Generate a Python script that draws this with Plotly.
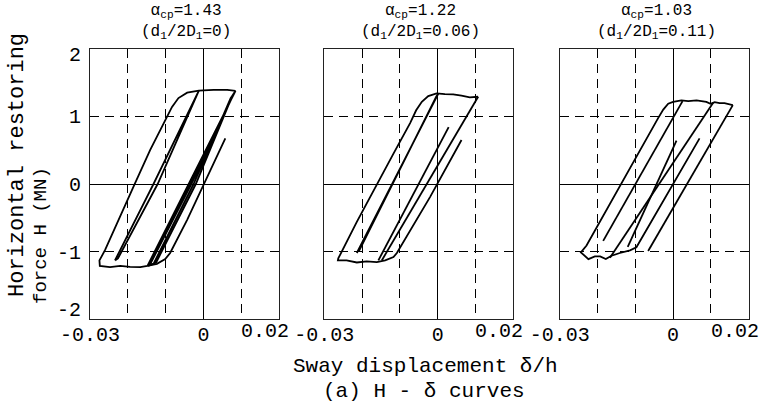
import plotly.graph_objects as go

# ---------------- data ----------------
ALPHA_CP = ["1.43", "1.22", "1.03"]
D_RATIO = ["0", "0.06", "0.11"]

X_TICKS = [-0.03, 0]
X_TICK_TEXT = ["-0.03", "0"]
X_END_TICK = 0.02
X_END_TEXT = "0.02"
X_MINOR = [-0.02, -0.01, 0.01]
Y_TICKS = [-1, 0, 1]
Y_TICK_TEXT = ["-1", "0", "1"]
Y_END_TICKS = [-2, 2]
Y_END_TEXT = ["-2", "2"]
Y_GRID = [-2, -1, 1, 2]

# panel 1 (alpha_cp = 1.43)
P1_OUTER_X = [0.0085, 0.0063, 0.0027, -0.0012, -0.0043, -0.0066, -0.0083, -0.0101, -0.0141,
              -0.0181, -0.0220, -0.0260, -0.0275, -0.0274, -0.0247, -0.0220, -0.0194, -0.0167,
              -0.0148, -0.0123, -0.0101, -0.0088, -0.0043, 0.0001, 0.0058]
P1_OUTER_Y = [1.378, 1.39, 1.39, 1.38, 1.35, 1.27, 1.14, 0.945, 0.50,
              0.01, -0.48, -0.975, -1.13, -1.21, -1.23, -1.21, -1.225, -1.23,
              -1.21, -1.18, -1.11, -1.02, -0.53, -0.015, 0.675]
P1_NARROW_X = [-0.0234, -0.0132, -0.0012, -0.0121, -0.0226, -0.0234]
P1_NARROW_Y = [-1.13, 0.0, 1.38, 0.0, -1.10, -1.13]
P1_BAND_X = [-0.0148, -0.0040, 0.0085, 0.0077, -0.0020, -0.0125, -0.0142, -0.0032, 0.0082,
             0.0072, -0.0026, -0.0132, -0.0146, -0.0036, 0.0084]
P1_BAND_Y = [-1.21, 0.0, 1.378, 1.31, 0.0, -1.16, -1.20, 0.0, 1.35,
             1.27, 0.0, -1.18, -1.21, 0.0, 1.37]

# panel 2 (alpha_cp = 1.22)
P2_OUTER_X = [0.0107, 0.0085, 0.0063, 0.0041, 0.0019, -0.0003, -0.0025, -0.0042, -0.0057,
              -0.0073, -0.0117, -0.0160, -0.0214, -0.0263, -0.0264, -0.0241, -0.0214, -0.0188,
              -0.0161, -0.0139, -0.0117, -0.0108, -0.0020, 0.0063]
P2_OUTER_Y = [1.29, 1.28, 1.305, 1.325, 1.33, 1.34, 1.30, 1.215, 1.09,
              0.90, 0.45, 0.0, -0.56, -1.10, -1.13, -1.13, -1.16, -1.145,
              -1.155, -1.13, -1.08, -1.02, -0.19, 0.65]
P2_B_X = [-0.0214, 0.0002, -0.0004, -0.0209]
P2_B_Y = [-1.02, 1.34, 1.29, -1.00]
P2_C_X = [-0.0157, 0.0026, 0.0029]
P2_C_Y = [-1.13, 0.80, 0.84]
P2_D_X = [-0.0148, 0.0107]
P2_D_Y = [-1.13, 1.29]

# panel 3 (alpha_cp = 1.03)
P3_OUTER_X = [0.0158, 0.0150, 0.0136, 0.0123, 0.0110, 0.0099, 0.0088, 0.0062, 0.0040, 0.0022,
              0.0, -0.0013, -0.0026, -0.0040, -0.0088, -0.0136, -0.0185, -0.0229, -0.0244,
              -0.0233, -0.0224, -0.0207, -0.0193, -0.0178, -0.0163, -0.0141, -0.0114, -0.0097,
              0.0070]
P3_OUTER_Y = [1.166, 1.177, 1.196, 1.196, 1.21, 1.186, 1.214, 1.235, 1.226, 1.235,
              1.214, 1.186, 1.10, 0.97, 0.49, 0.01, -0.49, -0.91, -1.01,
              -1.06, -1.11, -1.07, -1.07, -1.11, -1.06, -1.02, -0.98, -0.935,
              0.675]
P3_L1_X = [-0.0185, 0.0025]
P3_L1_Y = [-0.84, 1.225]
P3_L2_X = [-0.0167, 0.0106]
P3_L2_Y = [-1.09, 1.20]
P3_L3_X = [-0.0120, 0.0009]
P3_L3_Y = [-0.93, 0.64]
P3_L5_X = [-0.0066, 0.0158]
P3_L5_Y = [-0.99, 1.166]

PANEL_CURVES = [
    [(P1_OUTER_X, P1_OUTER_Y), (P1_NARROW_X, P1_NARROW_Y), (P1_BAND_X, P1_BAND_Y)],
    [(P2_OUTER_X, P2_OUTER_Y), (P2_B_X, P2_B_Y), (P2_C_X, P2_C_Y), (P2_D_X, P2_D_Y)],
    [(P3_OUTER_X, P3_OUTER_Y), (P3_L1_X, P3_L1_Y), (P3_L2_X, P3_L2_Y),
     (P3_L3_X, P3_L3_Y), (P3_L5_X, P3_L5_Y)],
]

# ---------------- layout ----------------
W, H = 776, 406
PX_LEFT = [90, 324.3, 559.7]
PX_RIGHT = [279, 513.3, 748.7]
PY_TOP, PY_BOT = 48.7, 319.3
FONT = "Liberation Mono, DejaVu Sans Mono, monospace"
INK = "black"
DASH = "9px,6px"
TICK_FONT = dict(family=FONT, size=20, color=INK)

fig = go.Figure()

for k, curves in enumerate(PANEL_CURVES):
    sfx = "" if k == 0 else str(k + 1)
    for cx, cy in curves:
        fig.add_trace(go.Scatter(x=cx, y=cy, mode="lines",
                                 line=dict(color=INK, width=1.8),
                                 xaxis="x" + sfx, yaxis="y" + sfx,
                                 showlegend=False, hoverinfo="skip"))

layout = dict(width=W, height=H, margin=dict(l=0, r=0, t=0, b=0, autoexpand=False),
              paper_bgcolor="white", plot_bgcolor="white", showlegend=False,
              font=dict(family=FONT, color=INK))

annotations = []
for k in range(3):
    sfx = "" if k == 0 else str(k + 1)
    layout["xaxis" + sfx] = dict(
        domain=[PX_LEFT[k] / W, PX_RIGHT[k] / W], range=[-0.03, 0.02],
        tickvals=X_TICKS, ticktext=X_TICK_TEXT, ticks="", automargin=False,
        tickfont=TICK_FONT, ticklabelstandoff=-3,
        showgrid=True, gridcolor=INK, gridwidth=1, griddash=DASH,
        minor=dict(tickvals=X_MINOR, showgrid=True, gridcolor=INK, gridwidth=1, griddash=DASH),
        zeroline=True, zerolinecolor=INK, zerolinewidth=1,
        showline=True, mirror=True, linecolor="#222", linewidth=1.2,
        anchor="y" + sfx, fixedrange=True)
    yax = dict(
        domain=[1 - PY_BOT / H, 1 - PY_TOP / H], range=[-2, 2],
        tickvals=Y_TICKS, ticks="", automargin=False,
        showticklabels=(k == 0), ticklabelstandoff=4,
        tickfont=TICK_FONT,
        showgrid=True, gridcolor=INK, gridwidth=1, griddash=DASH,
        minor=dict(tickvals=Y_GRID, showgrid=True, gridcolor=INK, gridwidth=1, griddash=DASH),
        zeroline=True, zerolinecolor=INK, zerolinewidth=1,
        showline=True, mirror=True, linecolor="#222", linewidth=1.2,
        anchor="x" + sfx, fixedrange=True)
    if k == 0:
        yax["ticktext"] = Y_TICK_TEXT
    layout["yaxis" + sfx] = yax
    cx_paper = (PX_LEFT[k] + PX_RIGHT[k]) / 2 / W + 2 / W
    annotations.append(dict(
        text="α<sub>cp</sub>=" + ALPHA_CP[k] + "<br>(d<sub>1</sub>/2D<sub>1</sub>=" + D_RATIO[k] + ")",
        x=cx_paper, y=1 - 22 / H,
        xref="paper", yref="paper", xanchor="center", yanchor="middle",
        showarrow=False, font=dict(family=FONT, size=16, color=INK)))
    annotations.append(dict(
        text=X_END_TEXT, x=X_END_TICK, xref="x" + sfx, y=1 - PY_BOT / H, yref="paper",
        xanchor="center", yanchor="top", xshift=-14, yshift=1,
        showarrow=False, font=TICK_FONT))

# end labels of the force axis, pulled inside like in the reference
for val, txt, shift in zip(Y_END_TICKS, Y_END_TEXT, [9, -7]):
    annotations.append(dict(
        text=txt, x=PX_LEFT[0] / W, xref="paper", y=val, yref="y",
        xanchor="right", yanchor="middle", xshift=-7, yshift=shift,
        showarrow=False, font=TICK_FONT))

annotations += [
    dict(text="Sway displacement δ/h", x=425 / W, y=1 - 366 / H, xref="paper", yref="paper",
         xanchor="center", yanchor="middle", showarrow=False,
         font=dict(family=FONT, size=21, color=INK)),
    dict(text="(a) H - δ curves", x=424 / W, y=1 - 391 / H, xref="paper", yref="paper",
         xanchor="center", yanchor="middle", showarrow=False,
         font=dict(family=FONT, size=21, color=INK)),
    dict(text="Horizontal restoring", x=17 / W, y=1 - 165 / H, xref="paper", yref="paper",
         xanchor="center", yanchor="middle", textangle=-90, showarrow=False,
         font=dict(family=FONT, size=22, color=INK)),
    dict(text="force H (MN)", x=41 / W, y=1 - 236 / H, xref="paper", yref="paper",
         xanchor="center", yanchor="middle", textangle=-90, showarrow=False,
         font=dict(family=FONT, size=19, color=INK)),
]
layout["annotations"] = annotations
fig.update_layout(**layout)

fig.write_html("out.html", config={"displayModeBar": False},
               post_script="document.body.style.margin='0';")
